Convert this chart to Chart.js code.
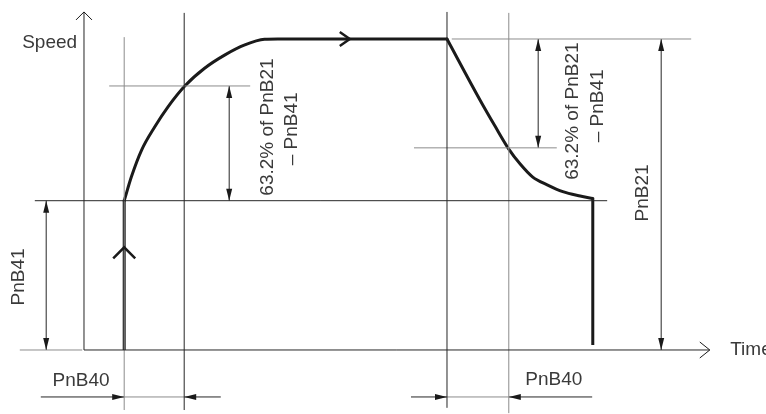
<!DOCTYPE html>
<html>
<head>
<meta charset="utf-8">
<script src="https://cdn.jsdelivr.net/npm/chart.js@4/dist/chart.umd.min.js"></script>
<style>
  body { margin: 0; background: #fff; }
  #wrap { width: 766px; height: 414px; }
</style>
</head>
<body>
<div id="wrap"><canvas id="speedChart"></canvas></div>
<script>
// speed curve (time in arbitrary units, speed in % of PnB21)
const riseTime  = [6.7, 7.9, 9.6, 11.8, 14.0, 16.8, 20.1, 23.5, 26.8, 30.1, 32.3, 60.5];
const riseSpeed = [48, 55.7, 64.3, 71.8, 78.2, 84.9, 90.6, 94.9, 98.1, 99.9, 100, 100];
const fallTime  = [60.5, 66.0, 68.5, 70.8, 72.7, 74.8, 77.2, 79.8, 82.7, 84.8];
const fallSpeed = [100, 80.4, 72.0, 64.6, 59.8, 55.6, 53.1, 50.9, 49.5, 48.7];

// speed levels
const levelNames  = ['PnB21', 'PnB41', '63.2% rise', '63.2% fall'];
const levelValues = [100, 48, 84.9, 65];

// reference times
const markerNames = ['start', 'start + PnB40', 'decel', 'decel + PnB40', 'stop'];
const markerTimes = [6.7, 16.7, 60.5, 70.8, 84.8];

const [pnb21, pnb41, riseRef, fallRef] = levelValues;
const [tStart, tRise, tDecel, tFall, tStop] = markerTimes;

const DARK = '#262626';
const GRAY = '#8c8c8c';
const TEXT = '#3a3a3a';
const CURVE = '#1a1a1a';

let datasets = [];
function seg(x1, y1, x2, y2, color, width) {
    datasets.push({
        data: [{x: x1, y: y1}, {x: x2, y: y2}],
        showLine: true,
        borderColor: color,
        borderWidth: width || 1,
        pointRadius: 0
    });
}

// axes
seg(0, 0, 0, 108.7, DARK);
seg(0, 0, 104.3, 0, DARK);
seg(-10.7, 0, -0.3, 0, GRAY);

// guide lines
seg(-8.2, pnb41, 87.2, pnb41, DARK);
seg(tStart, -19.3, tStart, 100.6, GRAY);
seg(tRise, -19.3, tRise, 108.4, DARK);
seg(4.2, riseRef, 27.7, riseRef, GRAY);
seg(tDecel, -18.6, tDecel, 108.7, DARK);
seg(tFall, -20.3, tFall, 108.4, GRAY);
seg(55, fallRef, 78.8, fallRef, GRAY);
seg(61.3, pnb21, 101.2, pnb21, GRAY);

// dimension lines
seg(96.2, 0, 96.2, pnb21, DARK);
seg(75.7, fallRef, 75.7, pnb21, DARK);
seg(24.2, pnb41, 24.2, riseRef, DARK);
seg(-6.3, 0, -6.3, pnb41, DARK);
const dimY = -15.1;
seg(-7.2, dimY, tStart, dimY, DARK);
seg(tStart, dimY, tRise, dimY, GRAY);
seg(22.8, dimY, tRise, dimY, DARK);
seg(54.5, dimY, tDecel, dimY, DARK);
seg(tDecel, dimY, tFall, dimY, GRAY);
seg(84.7, dimY, tFall, dimY, DARK);

// speed curve: step up, rise, flat, fall, drop
seg(tStart, 0, tStart, pnb41 + 0.3, CURVE, 3);
seg(tStop, fallSpeed[fallSpeed.length - 1], tStop, 1.6, CURVE, 3);
for (let [ts, ss] of [[riseTime, riseSpeed], [fallTime, fallSpeed]]) {
    datasets.push({
        data: ts.map((t, i) => ({x: t, y: ss[i]})),
        showLine: true,
        borderColor: CURVE,
        borderWidth: 3,
        borderCapStyle: 'round',
        pointRadius: 0,
        cubicInterpolationMode: 'monotone'
    });
}

const arrows = [
    // filled dimension heads
    {x: 96.2, y: pnb21, dir: 'up'}, {x: 96.2, y: 0, dir: 'down'},
    {x: 75.7, y: pnb21, dir: 'up'}, {x: 75.7, y: fallRef, dir: 'down'},
    {x: 24.2, y: riseRef, dir: 'up'}, {x: 24.2, y: pnb41, dir: 'down'},
    {x: -6.3, y: pnb41, dir: 'up'}, {x: -6.3, y: 0, dir: 'down'},
    {x: tStart, y: dimY, dir: 'right'}, {x: tRise, y: dimY, dir: 'left'},
    {x: tDecel, y: dimY, dir: 'right'}, {x: tFall, y: dimY, dir: 'left'},
    // open chevrons
    {x: 0, y: 108.7, dir: 'up', open: true, len: 8, half: 8, w: 1},
    {x: 104.3, y: 0, dir: 'right', open: true, len: 10, half: 8, w: 1},
    {x: 44.3, y: pnb21, dir: 'right', open: true, len: 10, half: 7, w: 2.5},
    {x: tStart, y: 33, dir: 'up', open: true, len: 11, half: 11, w: 2.5}
];

const labels = [
    {text: 'Speed', x: -10.3, y: 98.7, align: 'left'},
    {text: 'Time', x: 107.7, y: 0, align: 'left'},
    {text: 'PnB40', x: -0.5, y: -10, align: 'center'},
    {text: 'PnB40', x: 78.3, y: -9.6, align: 'center'},
    {text: 'PnB41', x: -10.8, y: 23.5, rot: true},
    {text: 'PnB21', x: 93.2, y: 50.5, rot: true},
    {text: '63.2% of PnB21', x: 30.7, y: 71.7, rot: true},
    {text: '\u2013 PnB41', x: 34.7, y: 71.1, rot: true},
    {text: '63.2% of PnB21', x: 81.5, y: 76.8, rot: true},
    {text: '\u2013 PnB41', x: 85.7, y: 78.5, rot: true}
];

const dirs = {up: [0, -1], down: [0, 1], left: [-1, 0], right: [1, 0]};

const extrasPlugin = {
    id: 'extras',
    afterDatasetsDraw(chart) {
        const ctx = chart.ctx;
        const sx = chart.scales.x, sy = chart.scales.y;
        ctx.save();
        for (let a of arrows) {
            const px = sx.getPixelForValue(a.x), py = sy.getPixelForValue(a.y);
            const [dx, dy] = dirs[a.dir];
            const len = a.len || 12, half = a.half || 3;
            const bx = px - dx * len, by = py - dy * len;
            ctx.beginPath();
            ctx.moveTo(bx - dy * half, by + dx * half);
            ctx.lineTo(px, py);
            ctx.lineTo(bx + dy * half, by - dx * half);
            if (a.open) {
                ctx.strokeStyle = CURVE;
                ctx.lineWidth = a.w;
                ctx.stroke();
            } else {
                ctx.closePath();
                ctx.fillStyle = CURVE;
                ctx.fill();
            }
        }
        ctx.fillStyle = TEXT;
        ctx.font = '19px "Liberation Sans", Arial, sans-serif';
        ctx.textBaseline = 'middle';
        for (let l of labels) {
            const px = sx.getPixelForValue(l.x), py = sy.getPixelForValue(l.y);
            ctx.save();
            ctx.translate(px, py);
            if (l.rot) {
                ctx.rotate(-Math.PI / 2);
                ctx.textAlign = 'center';
            } else {
                ctx.textAlign = l.align;
            }
            ctx.fillText(l.text, 0, 0);
            ctx.restore();
        }
        ctx.restore();
    }
};

let ctx = document.getElementById('speedChart').getContext('2d');
let myChart = new Chart(ctx, {
    type: 'scatter',
    data: { datasets: datasets },
    options: {
        responsive: true,
        maintainAspectRatio: false,
        animation: false,
        layout: { padding: 0 },
        plugins: { legend: { display: false }, tooltip: { enabled: false } },
        scales: {
            x: { type: 'linear', display: false, min: -14, max: 113.67 },
            y: { type: 'linear', display: false, min: -20.58, max: 112.54 }
        }
    },
    plugins: [extrasPlugin]
});
</script>
</body>
</html>
